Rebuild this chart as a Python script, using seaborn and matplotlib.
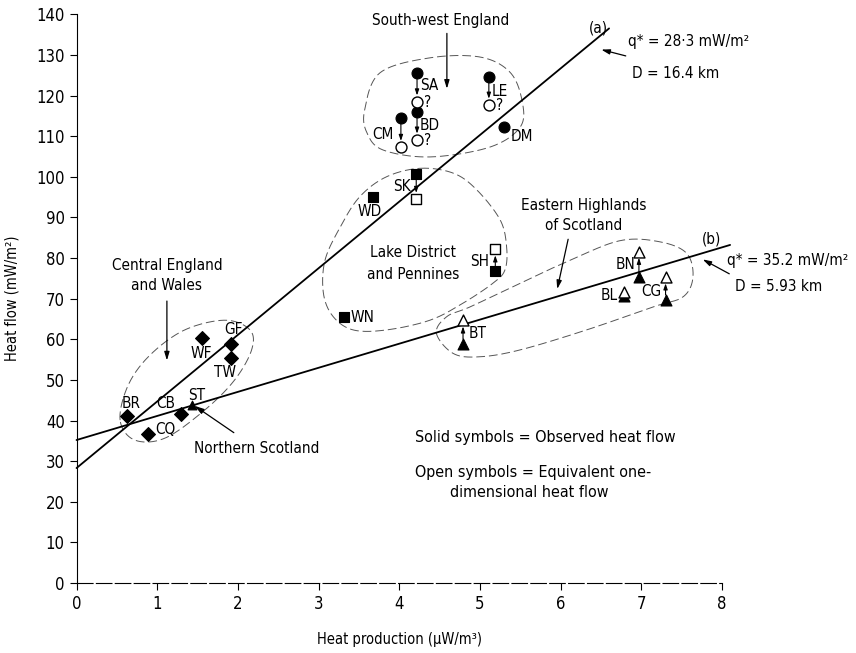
import numpy as np
import pandas as pd
import matplotlib
matplotlib.use("Agg")
import matplotlib.pyplot as plt
import seaborn as sns

# ---- data -------------------------------------------------------------
sites = ["SA", "BD", "CM", "LE", "DM",
         "SK", "WD", "SH", "WN",
         "BT", "BN", "BL", "CG",
         "BR", "CQ", "CB", "WF", "GF", "TW",
         "ST"]
regions = ["SW"] * 5 + ["Lake"] * 4 + ["East"] * 4 + ["Central"] * 6 + ["North"]
heat_production = [4.22, 4.22, 4.02, 5.11, 5.30,
                   4.21, 3.68, 5.19, 3.31,
                   4.79, 6.97, 6.78, 7.30,
                   0.62, 0.89, 1.30, 1.55, 1.91, 1.91,
                   1.43]
observed_flow = [125.5, 116.0, 114.6, 124.5, 112.3,
                 100.7, 95.0, 76.8, 65.4,
                 58.8, 75.3, 70.6, 69.7,
                 41.1, 36.7, 41.6, 60.2, 58.8, 55.5,
                 43.8]
equivalent_flow = [118.5, 109.1, 107.3, 117.7, None,
                   94.5, None, 82.2, None,
                   64.7, 81.6, 71.6, 75.3,
                   None, None, None, None, None, None,
                   None]
uncertain = ["SA", "BD", "LE"]

# linear fits  q = q* + D * A
fit_a = dict(q_star=28.3, depth=16.4, x_end=6.6)
fit_b = dict(q_star=35.2, depth=5.93, x_end=8.1)

x_ticks = list(range(0, 9))
y_ticks = list(range(0, 150, 10))

df = pd.DataFrame(dict(site=sites, region=regions, production=heat_production,
                       observed=observed_flow, equivalent=equivalent_flow))

# ---- style ------------------------------------------------------------
sns.set_style("ticks")
plt.rcParams["font.family"] = ["Liberation Sans Narrow", "DejaVu Sans"]
plt.rcParams["font.stretch"] = "condensed"
for key in ("text.color", "axes.labelcolor", "xtick.color", "ytick.color",
            "axes.edgecolor"):
    plt.rcParams[key] = "black"

fig = plt.figure(figsize=(8.56, 6.53), dpi=100)
ax = fig.add_axes([0.0894, 0.1072, 0.7541, 0.8708])

marker_of = {"SW": "o", "Lake": "s", "East": "^", "Central": "D", "North": "^"}
size_of = {"SW": 62, "Lake": 46, "East": 62, "Central": 50, "North": 40}

# enclosing dashed outlines (closed Catmull-Rom curves)
outlines = {
    "SW": [(3.57, 116.4), (3.76, 125.6), (4.38, 129.3), (5.00, 129.5), (5.37, 125.8),
           (5.52, 118.9), (5.50, 112.3), (5.12, 107.3), (4.38, 104.9), (3.80, 106.6),
           (3.60, 110.8)],
    "Lake": [(4.26, 102.1), (4.67, 100.9), (4.96, 96.8), (5.25, 89.4), (5.33, 82.8),
             (5.31, 77.1), (5.16, 73.8), (4.79, 68.9), (4.38, 64.7), (3.84, 62.3),
             (3.43, 62.3), (3.18, 65.6), (3.06, 71.3), (3.08, 79.5), (3.27, 87.7),
             (3.51, 95.1), (3.84, 100.0)],
    "East": [(4.46, 61.5), (4.67, 56.5), (5.00, 55.7), (5.50, 57.4), (6.32, 62.3),
             (7.15, 68.0), (7.52, 70.5), (7.64, 75.4), (7.56, 81.2), (7.23, 84.0),
             (6.74, 84.3), (6.12, 79.5), (5.50, 73.8), (4.88, 68.0), (4.59, 65.6)],
    "Central": [(0.54, 40.1), (0.64, 48.7), (0.91, 56.1), (1.34, 62.3), (1.84, 64.7),
                (2.15, 62.3), (2.17, 57.4), (1.96, 50.0), (1.59, 42.6), (1.10, 35.7),
                (0.72, 35.2)],
}


def closed_curve(pts, n=30):
    p = np.asarray(pts, float)
    m = len(p)
    out = []
    for i in range(m):
        p0, p1, p2, p3 = p[i - 1], p[i], p[(i + 1) % m], p[(i + 2) % m]
        t = np.linspace(0, 1, n, endpoint=False)[:, None]
        out.append(0.5 * ((2 * p1) + (-p0 + p2) * t + (2 * p0 - 5 * p1 + 4 * p2 - p3) * t ** 2
                          + (-p0 + 3 * p1 - 3 * p2 + p3) * t ** 3))
    out = np.vstack(out)
    return np.vstack([out, out[:1]])


for pts in outlines.values():
    c = closed_curve(pts)
    ax.plot(c[:, 0], c[:, 1], color="#555555", lw=0.7, ls=(0, (9, 4)), zorder=1)

# fitted lines
for fit in (fit_a, fit_b):
    xs = np.array([0.0, fit["x_end"]])
    ax.plot(xs, fit["q_star"] + fit["depth"] * xs, color="black", lw=1.3,
            clip_on=False, zorder=2)

# observed (solid) and equivalent one-dimensional (open) symbols
for reg, sub in df.groupby("region"):
    sns.scatterplot(data=sub, x="production", y="observed", marker=marker_of[reg],
                    s=size_of[reg], color="black", edgecolor="black", linewidth=0.8,
                    ax=ax, legend=False, zorder=4, clip_on=False)
    eq = sub.dropna(subset=["equivalent"])
    if len(eq):
        sns.scatterplot(data=eq, x="production", y="equivalent", marker=marker_of[reg],
                        s=size_of[reg], color="white", edgecolor="black", linewidth=1.0,
                        ax=ax, legend=False, zorder=5, clip_on=False)

# small arrows from observed to equivalent values
for _, r in df.dropna(subset=["equivalent"]).iterrows():
    if abs(r.equivalent - r.observed) < 2:
        continue
    ax.annotate("", xy=(r.production, r.equivalent), xytext=(r.production, r.observed),
                arrowprops=dict(arrowstyle="-|>,head_length=0.35,head_width=0.12",
                                color="black", lw=0.8, shrinkA=3.5, shrinkB=4.5),
                zorder=3)

# site labels: (ha, dx, dy) in points relative to the observed symbol
label_style = {
    "SA": ("left", 2, -8.5), "BD": ("left", 2, -9.6), "CM": ("right", -5.5, -12),
    "LE": ("left", 2, -10.4), "DM": ("left", 4.3, -7.2),
    "SK": ("right", -4.3, -9), "WD": ("center", -2.4, -10.4), "SH": ("right", -4.3, 6.7),
    "WN": ("left", 4.8, 0), "BT": ("left", 3.8, 7.9), "BN": ("right", -2.4, 8.9),
    "BL": ("right", -4.3, 0.7), "CG": ("right", -2.7, 6),
    "WF": ("center", 0, -10.8), "GF": ("center", 1.7, 10.3), "TW": ("center", -4.3, -10.8),
    "BR": ("center", 3.6, 9.1), "CB": ("center", -11.3, 7.7), "ST": ("center", 3.2, 7.2),
    "CQ": ("left", 4.8, 2.9),
}
for _, r in df.iterrows():
    ha, dx, dy = label_style[r.site]
    ax.annotate(r.site, (r.production, r.observed), xytext=(dx, dy),
                textcoords="offset points", ha=ha, va="center", fontsize=11, zorder=6)
    if r.site in uncertain:
        ax.annotate("?", (r.production, r.equivalent), xytext=(5, -0.5),
                    textcoords="offset points", ha="left", va="center", fontsize=11)

arrow_kw = dict(arrowstyle="-|>,head_length=0.5,head_width=0.15", color="black", lw=0.9)

# region names with pointers
txt = dict(fontsize=11, ha="center", va="center")
ax.text(4.51, 138.6, "South-west England", **txt)
ax.annotate("", xy=(4.59, 121.0), xytext=(4.59, 136.0), arrowprops=arrow_kw)
ax.text(4.17, 78.7, "Lake District\nand Pennines", linespacing=1.6, **txt)
ax.text(6.28, 90.4, "Eastern Highlands\nof Scotland", linespacing=1.4, **txt)
ax.annotate("", xy=(5.95, 71.7), xytext=(6.10, 85.3), arrowprops=arrow_kw)
ax.text(1.12, 75.8, "Central England\nand Wales", linespacing=1.4, **txt)
ax.annotate("", xy=(1.12, 54.1), xytext=(1.12, 70.1), arrowprops=arrow_kw)
ax.annotate("Northern Scotland", xy=(1.45, 43.8), xytext=(2.23, 33.2), fontsize=11,
            ha="center", va="center",
            arrowprops=dict(arrow_kw, shrinkA=6, shrinkB=1))

ax.text(4.19, 35.9, "Solid symbols = Observed heat flow", fontsize=11.5, ha="left", va="center")
ax.text(4.19, 27.3, "Open symbols = Equivalent one-", fontsize=11.5, ha="left", va="center")
ax.text(4.63, 22.4, "dimensional heat flow", fontsize=11.5, ha="left", va="center")

# fit parameters
ax.text(6.47, 136.6, "(a)", fontsize=11, ha="center", va="center")
ax.text(6.84, 133.3, f"q* = {fit_a['q_star']:.1f} mW/m²".replace(".", "·", 1), fontsize=11,
        ha="left", va="center", clip_on=False)
ax.text(6.88, 125.5, f"D = {fit_a['depth']:.1f} km", fontsize=11, ha="left", va="center",
        clip_on=False)
ax.annotate("", xy=(6.47, 131.5), xytext=(6.84, 129.6), arrowprops=arrow_kw,
            annotation_clip=False)
ax.text(7.87, 84.6, "(b)", fontsize=11, ha="center", va="center", clip_on=False)
ax.text(8.06, 79.5, f"q* = {fit_b['q_star']:.1f} mW/m²", fontsize=11, ha="left",
        va="center", clip_on=False)
ax.text(8.16, 72.9, f"D = {fit_b['depth']:.2f} km", fontsize=11, ha="left", va="center",
        clip_on=False)
ax.annotate("", xy=(7.73, 80.0), xytext=(8.12, 75.8), arrowprops=arrow_kw,
            annotation_clip=False)

# axes
ax.set_xlim(0, 8)
ax.set_ylim(0, 140)
ax.set_xticks(x_ticks)
ax.set_yticks(y_ticks)
ax.tick_params(labelsize=12, length=5, width=0.8, direction="out")
ax.set_xlabel("Heat production (μW/m³)", fontsize=10.5, labelpad=14)
ax.set_ylabel("Heat flow (mW/m²)", fontsize=10.5, labelpad=12)
sns.despine(ax=ax)
ax.spines["left"].set_linewidth(0.8)
ax.spines["bottom"].set_linewidth(0.8)
ax.spines["bottom"].set_linestyle((0, (14, 3)))

fig.savefig("out.png", dpi=100)
